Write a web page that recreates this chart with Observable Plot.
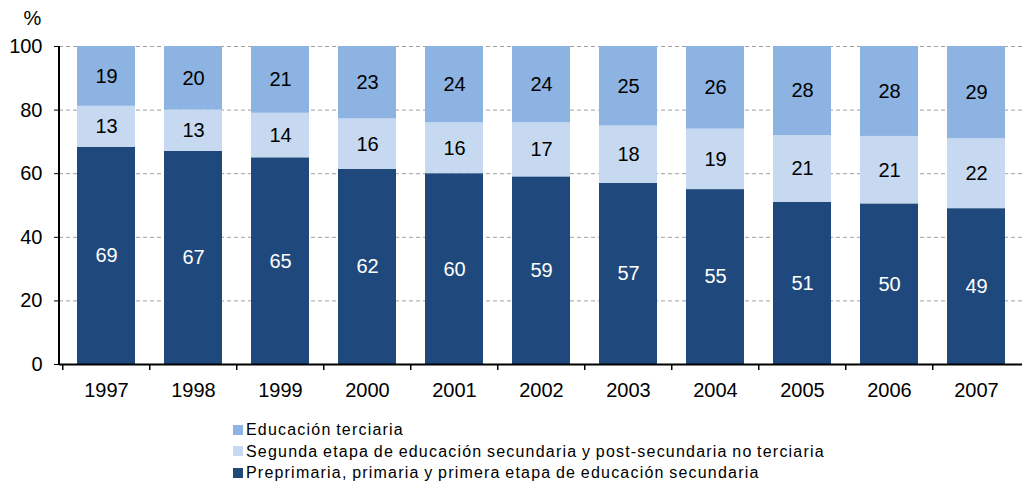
<!DOCTYPE html>
<html>
<head>
<meta charset="utf-8">
<script src="https://cdn.jsdelivr.net/npm/d3@7"></script>
<script src="https://cdn.jsdelivr.net/npm/@observablehq/plot@0.6"></script>
<style>
  html, body { margin: 0; padding: 0; background: #fff; }
  body { width: 1030px; height: 482px; overflow: hidden; font-family: "Liberation Sans", Arial, sans-serif; }
  #legend { position: absolute; left: 233px; top: 419px; font-size: 16px; line-height: 21.5px; color: #000; letter-spacing: 1.2px; word-spacing: -1px; }
  #legend .item { display: flex; align-items: center; white-space: nowrap; }
  #legend .sw { width: 10px; height: 10px; margin-right: 3px; flex: none; }
</style>
</head>
<body>
<div id="chart"></div>
<div id="legend"></div>
<script>
const years = ["1997","1998","1999","2000","2001","2002","2003","2004","2005","2006","2007"];
const preprimaria = [69, 67, 65, 62, 60, 59, 57, 55, 51, 50, 49];
const segunda     = [13, 13, 14, 16, 16, 17, 18, 19, 21, 21, 22];
const terciaria   = [19, 20, 21, 23, 24, 24, 25, 26, 28, 28, 29];
const seriesNames = [
  "Preprimaria, primaria y primera etapa de educación secundaria",
  "Segunda etapa de educación secundaria y post-secundaria no terciaria",
  "Educación terciaria"
];
const seriesColors = ["#1f497d", "#c6d9f1", "#8db3e2"];
const yTicks = [0, 20, 40, 60, 80, 100];

const seriesValues = [preprimaria, segunda, terciaria];
const table = [];
years.forEach((yr, i) => {
  const total = seriesValues.reduce((s, arr) => s + arr[i], 0);
  seriesValues.forEach((arr, k) => {
    table.push({year: yr, series: seriesNames[k], k, value: arr[i], pct: arr[i] / total * 100});
  });
});

const width = 1030, height = 410;
const marginLeft = 59, marginRight = 8, marginTop = 46, marginBottom = 46;
const step = (width - marginLeft - marginRight) / years.length;
const font = "Liberation Sans, Arial, sans-serif";
const fs = 20;

const plot = Plot.plot({
  width, height, marginLeft, marginRight, marginTop, marginBottom,
  style: {fontFamily: font, fontSize: fs + "px", color: "#000", background: "#fff"},
  x: {domain: years, paddingInner: 0.338, paddingOuter: 0.169, label: null},
  y: {domain: [0, 100], label: null},
  color: {domain: seriesNames, range: seriesColors},
  marks: [
    Plot.ruleY([20, 40, 60, 80, 100], {stroke: "#a0a0a0", strokeWidth: 1, strokeDasharray: "4,3"}),
    Plot.barY(table, {x: "year", y: "pct", fill: "series", order: null}),
    Plot.text(table, Plot.stackY({x: "year", y: "pct", text: d => String(d.value), order: null,
      fill: d => d.k === 0 ? "#ffffff" : "#000000", fontSize: fs})),
    Plot.ruleY([0], {stroke: "#000", strokeWidth: 2}),
    Plot.axisY({ticks: yTicks, tickSize: 5, tickPadding: 12, fontSize: fs, label: null}),
    Plot.axisX({tickSize: 6, tickFormat: () => "", dx: -step / 2, strokeWidth: 1.5}),
    Plot.axisX({tickSize: 0, tickPadding: 18, fontSize: fs, label: null}),
    Plot.text(["%"], {frameAnchor: "top-left", dx: -27, dy: -28, textAnchor: "middle", lineAnchor: "middle", fontSize: fs})
  ]
});

// vertical y-axis line drawn from the library's y scale
const ys = plot.scale("y");
d3.select(plot).append("line")
  .attr("x1", marginLeft).attr("x2", marginLeft)
  .attr("y1", ys.apply(100)).attr("y2", ys.apply(0))
  .attr("stroke", "#000").attr("stroke-width", 2);

document.getElementById("chart").appendChild(plot);

const legend = document.getElementById("legend");
[2, 1, 0].forEach(k => {
  const item = document.createElement("div");
  item.className = "item";
  const sw = document.createElement("span");
  sw.className = "sw";
  sw.style.background = seriesColors[k];
  const tx = document.createElement("span");
  tx.textContent = seriesNames[k];
  item.appendChild(sw);
  item.appendChild(tx);
  legend.appendChild(item);
});
</script>
</body>
</html>
